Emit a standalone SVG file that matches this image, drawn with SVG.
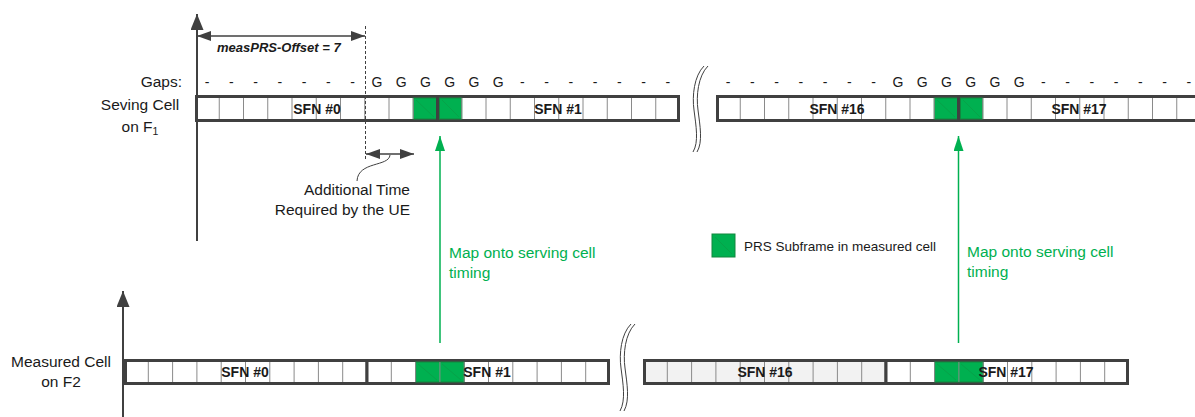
<svg xmlns="http://www.w3.org/2000/svg" width="1195" height="417" viewBox="0 0 1195 417">
<style>
text{font-family:"Liberation Sans",Arial,sans-serif;fill:#1a1a1a}
.lbl{font-size:15.5px}
.sfn{font-size:14px;font-weight:bold;text-anchor:middle}
.gap{font-size:14px;text-anchor:middle}
.grn{font-size:15.5px;fill:#00b050}
.box{fill:#fff;stroke:#404040;stroke-width:3}
.boxg{fill:#f2f2f2;stroke:#404040;stroke-width:3}
.cells{fill:none;stroke:#8a8a8a;stroke-width:1}
.prs{fill:#00b050;stroke:#12873f;stroke-width:1}
.hatch{fill:none;stroke:#07a249;stroke-width:1}
.ax{stroke:#404040;stroke-width:2;fill:none}
.dk{stroke:#404040;stroke-width:1.5;fill:none}
.garr{stroke:#00b050;stroke-width:1.5;fill:none}
.brk{fill:none;stroke:#404040;stroke-width:1}
</style>
<defs>
<marker id="ah" viewBox="0 0 14 10" refX="14" refY="5" markerWidth="14" markerHeight="10" markerUnits="userSpaceOnUse" orient="auto-start-reverse"><path d="M0,0 L14,5 L0,10 z" fill="#404040"/></marker>
<marker id="axm" viewBox="0 0 16 13" refX="16" refY="6.5" markerWidth="16" markerHeight="13" markerUnits="userSpaceOnUse" orient="auto"><path d="M0,0 L16,6.5 L0,13 z" fill="#404040"/></marker>
<marker id="gh" viewBox="0 0 15 10" refX="15" refY="5" markerWidth="15" markerHeight="10" markerUnits="userSpaceOnUse" orient="auto"><path d="M0,0 L15,5 L0,10 z" fill="#00b050"/></marker>
</defs>

<g id="axes">
<line class="ax" x1="197" y1="241" x2="197" y2="14" marker-end="url(#axm)"/>
<line class="ax" x1="123" y1="417" x2="123" y2="291" marker-end="url(#axm)"/>
</g>

<g id="labels">
<text class="lbl" x="182" y="87" text-anchor="end">Gaps:</text>
<text class="lbl" x="140" y="110" text-anchor="middle">Seving Cell</text>
<text class="lbl" x="140" y="132" text-anchor="middle">on F<tspan font-size="10.5" dy="3">1</tspan></text>
<text class="lbl" x="61" y="367" text-anchor="middle">Measured Cell</text>
<text class="lbl" x="61" y="387" text-anchor="middle">on F2</text>
<text x="217" y="52" font-size="13px" font-weight="bold" font-style="italic">measPRS-Offset = 7</text>
<text class="lbl" x="410" y="195" text-anchor="end">Additional Time</text>
<text class="lbl" x="410" y="215" text-anchor="end">Required by the UE</text>
</g>

<g id="gaps">
<text class="gap" y="87" x="207.1 231.4 255.6 279.9 304.1 328.4 352.6 376.9 401.1 425.4 449.6 473.9 498.1 522.4 546.6 570.9 595.1 619.4 643.6 667.9">-------GGGGGG-------</text>
<text class="gap" y="87" x="728.1 752.4 776.6 800.9 825.1 849.4 873.6 897.9 922.1 946.4 970.6 994.9 1019.1 1043.4 1067.6 1091.9 1116.1 1140.4 1164.6 1188.9">-------GGGGGG-------</text>
</g>

<g id="serving-sfn0">
<rect class="box" x="196.5" y="96.5" width="241" height="24"/>
<rect class="prs" x="413.25" y="98" width="24.25" height="21"/>
<path class="hatch" d="M416,100 L434,117"/>
<path class="cells" d="M219.25,98V119M243.5,98V119M267.75,98V119M292,98V119M316.25,98V119M340.5,98V119M364.75,98V119M389,98V119M413.25,98V119"/>
<text class="sfn" x="317" y="114">SFN #0</text>
</g>
<g id="serving-sfn1">
<rect class="box" x="437.5" y="96.5" width="241" height="24"/>
<rect class="prs" x="439.5" y="98" width="22.25" height="21"/>
<path class="hatch" d="M442,100 L459,117"/>
<path class="cells" d="M461.75,98V119M486,98V119M510.25,98V119M534.5,98V119M558.75,98V119M583,98V119M607.25,98V119M631.5,98V119M655.75,98V119"/>
<text class="sfn" x="558" y="114">SFN #1</text>
</g>
<g id="serving-sfn16">
<rect class="box" x="717.5" y="96.5" width="241" height="24"/>
<rect class="prs" x="934.25" y="98" width="24.25" height="21"/>
<path class="hatch" d="M937,100 L955,117"/>
<path class="cells" d="M740.25,98V119M764.5,98V119M788.75,98V119M813,98V119M837.25,98V119M861.5,98V119M885.75,98V119M910,98V119M934.25,98V119"/>
<text class="sfn" x="837" y="114">SFN #16</text>
</g>
<g id="serving-sfn17">
<rect class="box" x="958.5" y="96.5" width="241" height="24"/>
<rect class="prs" x="960.5" y="98" width="22.25" height="21"/>
<path class="hatch" d="M963,100 L980,117"/>
<path class="cells" d="M982.75,98V119M1007,98V119M1031.25,98V119M1055.5,98V119M1079.75,98V119M1104,98V119M1128.25,98V119M1152.5,98V119M1176.75,98V119"/>
<text class="sfn" x="1079" y="114">SFN #17</text>
</g>

<g id="measured-sfn0">
<rect class="box" x="125.5" y="360.5" width="241.5" height="23"/>
<path class="cells" d="M148.3,362V382M172.6,362V382M196.9,362V382M221.2,362V382M245.5,362V382M269.8,362V382M294.1,362V382M318.4,362V382M342.7,362V382"/>
<text class="sfn" x="245" y="377">SFN #0</text>
</g>
<g id="measured-sfn1">
<rect class="box" x="367" y="360.5" width="241.5" height="23"/>
<rect class="prs" x="415.6" y="362" width="48.6" height="20"/>
<path class="hatch" d="M418,364 L437,380M442,364 L461,380"/>
<path class="cells" d="M391.3,362V382M415.6,362V382M439.9,362V382M464.2,362V382M488.5,362V382M512.8,362V382M537.1,362V382M561.4,362V382M585.7,362V382"/>
<text class="sfn" x="487" y="377">SFN #1</text>
</g>
<g id="measured-sfn16">
<rect class="boxg" x="644.5" y="360.5" width="241.5" height="23"/>
<path class="cells" d="M667.3,362V382M691.6,362V382M715.9,362V382M740.2,362V382M764.5,362V382M788.8,362V382M813.1,362V382M837.4,362V382M861.7,362V382"/>
<text class="sfn" x="765" y="377">SFN #16</text>
</g>
<g id="measured-sfn17">
<rect class="box" x="886" y="360.5" width="241.5" height="23"/>
<rect class="prs" x="934.6" y="362" width="48.6" height="20"/>
<path class="hatch" d="M937,364 L956,380M961,364 L980,380"/>
<path class="cells" d="M910.3,362V382M934.6,362V382M958.9,362V382M983.2,362V382M1007.5,362V382M1031.8,362V382M1056.1,362V382M1080.4,362V382M1104.7,362V382"/>
<text class="sfn" x="1006" y="377">SFN #17</text>
</g>

<g id="breaks">
<path class="brk" d="M704,66 C694,76 692,96 694,110 C696,126 699,142 693,152"/>
<path class="brk" d="M708,66 C698,76 696,96 698,110 C700,126 703,142 697,152"/>
<path class="brk" d="M631,324 C621,334 619,354 621,368 C623,384 626,400 620,411"/>
<path class="brk" d="M635,324 C625,334 623,354 625,368 C627,384 630,400 624,411"/>
</g>

<g id="legend">
<rect class="prs" x="712" y="234" width="23" height="23"/>
<path class="hatch" d="M715,237 L732,254"/>
<text x="744" y="251" font-size="13.5px">PRS Subframe in measured cell</text>
</g>

<g id="connectors">
<line x1="365.5" y1="26" x2="365.5" y2="160" stroke="#404040" stroke-width="1" stroke-dasharray="3,2"/>
<line class="dk" x1="197" y1="36" x2="365" y2="36" marker-start="url(#ah)" marker-end="url(#ah)"/>
<line class="dk" x1="366" y1="154" x2="414" y2="154" marker-start="url(#ah)" marker-end="url(#ah)"/>
<path d="M390,155 C389,167 358,161 357,181" fill="none" stroke="#404040" stroke-width="1"/>
<line class="garr" x1="440" y1="343" x2="440" y2="136" marker-end="url(#gh)"/>
<line class="garr" x1="958.5" y1="343" x2="958.5" y2="136" marker-end="url(#gh)"/>
<text class="grn" x="449" y="258">Map onto serving cell</text>
<text class="grn" x="449" y="278">timing</text>
<text class="grn" x="967" y="257">Map onto serving cell</text>
<text class="grn" x="967" y="277">timing</text>
</g>
</svg>
